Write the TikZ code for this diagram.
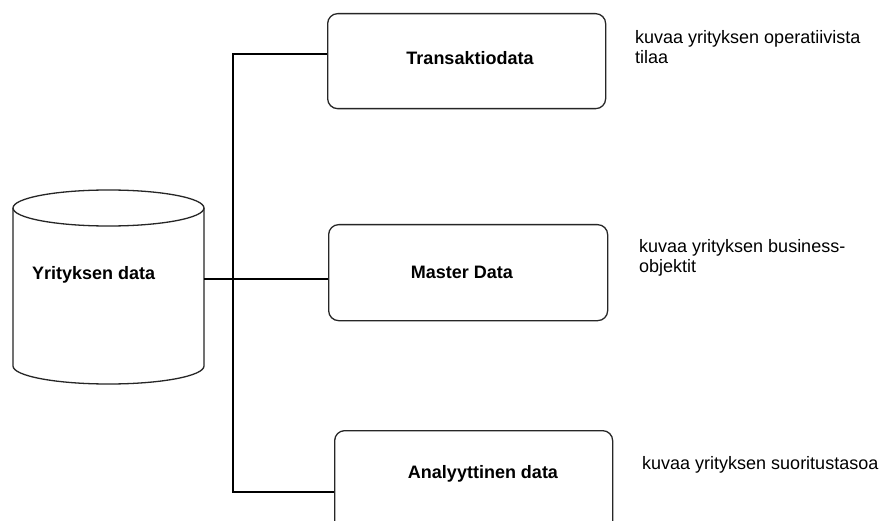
\documentclass[tikz,border=0pt]{standalone}
\usepackage{fontspec}
\setmainfont{Liberation Sans}
\begin{document}
\begin{tikzpicture}[x=1pt,y=-1pt,
  box/.style={draw=black!85, line width=1.3pt, rounded corners=10pt, inner sep=0pt, anchor=north west},
  conn/.style={draw=black, line width=2.4pt},
  title/.style={font=\fontsize{18}{20}\selectfont\bfseries, inner sep=0pt, anchor=base},
  desc/.style={font=\fontsize{18}{20.5}\selectfont, inner sep=0pt, align=left, anchor=north west}]
  \useasboundingbox (0,0) rectangle (888,521);
  \clip (0,0) rectangle (888,521);
  \fill[white] (0,0) rectangle (888,521);

  % database cylinder
  \draw[black!85, line width=1.3pt] (13,208) -- (13,366)
    arc[start angle=180, end angle=0, x radius=95.5, y radius=18] -- (204,208);
  \draw[black!85, line width=1.3pt] (108.5,208) ellipse [x radius=95.5, y radius=18];
  \node[title, anchor=base west] (db) at (32,279) {Yrityksen data};
  \coordinate (dbR) at (204,279);

  % data category boxes
  \node[box, minimum width=278pt, minimum height=95pt] (T) at (327,13) {};
  \node[box, minimum width=279pt, minimum height=96pt] (M) at (328,224) {};
  \node[box, minimum width=278pt, minimum height=110pt] (A) at (334,430) {};

  \node[title] (tT) at (470,65) {Transaktiodata};
  \node[title] (tM) at (462,278) {Master Data};
  \node[title] (tA) at (483,478) {Analyyttinen data};

  % descriptions
  \node[desc] (dT) at (635,30) {kuvaa yrityksen operatiivista\\tilaa};
  \node[desc] (dM) at (639,239) {kuvaa yrityksen business-\\objektit};
  \node[desc] (dA) at (642,456) {kuvaa yrityksen suoritustasoa};

  % connectors
  \coordinate (busT) at (233,54);
  \coordinate (busA) at (233,492);
  \draw[conn] (busT -| T.west) -- (busT) -- (busA) -- (busA -| A.west);
  \draw[conn] (dbR) -- (dbR -| M.west);
\end{tikzpicture}
\end{document}
